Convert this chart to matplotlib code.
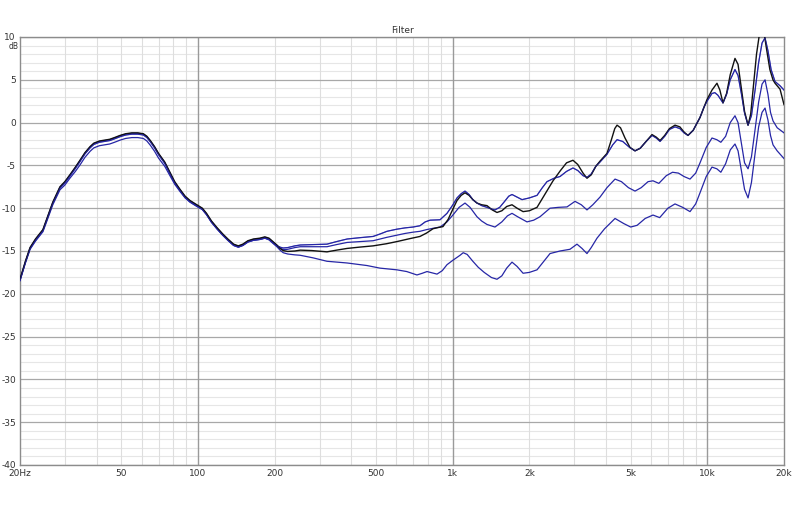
import matplotlib
matplotlib.use("Agg")
import matplotlib.pyplot as plt
from matplotlib.ticker import FixedLocator, NullLocator

# frequency points shared by all four traces below 210 Hz
freq_low = [20, 21, 21.9, 23, 24.6, 25.5, 26.9, 28.7, 30, 31.4, 33, 34.4, 36, 37.7, 39, 41, 43, 45,
            47, 49.4, 52, 55, 58, 61, 63, 65, 67.5, 70, 74, 77.6, 81, 85, 89, 93, 99, 104, 108, 113,
            119, 125, 131, 138, 144, 150, 157, 165, 175, 183, 190, 197, 204]

# trace A (black)
a_low = [-18.3, -16.2, -14.6, -13.6, -12.5, -11.2, -9.3, -7.5, -6.9, -6.1, -5.2, -4.4, -3.5, -2.8,
         -2.4, -2.15, -2.05, -1.95, -1.75, -1.5, -1.3, -1.2, -1.2, -1.3, -1.6, -2.1, -2.8, -3.6,
         -4.6, -5.8, -6.9, -7.8, -8.6, -9.1, -9.6, -10.0, -10.6, -11.5, -12.3, -13.0, -13.6, -14.2,
         -14.4, -14.2, -13.8, -13.6, -13.5, -13.35, -13.5, -13.9, -14.3]
a_freq = [210, 216, 225, 240, 252, 280, 321, 350, 385, 430, 487, 550, 604, 680, 744, 790, 837, 880,
          916, 960, 1002, 1040, 1080, 1118, 1160, 1200, 1246, 1300, 1364, 1430, 1493, 1560, 1630,
          1710, 1790, 1890, 2000, 2144, 2300, 2478, 2650, 2800, 2968, 3100, 3250, 3368, 3500, 3650,
          3790, 4036, 4200, 4330, 4420, 4560, 4750, 4970, 5200, 5450, 5750, 6064, 6300, 6521, 6800,
          7100, 7465, 7800, 8100, 8395, 8800, 9360, 9700, 9972, 10430, 10910, 11200, 11520, 11900,
          12300, 12840, 13200, 13600, 14000, 14450, 14800, 15200, 15600, 16100, 16600, 17100,
          17600, 18100, 18440, 19300, 20000]
a_db = [-14.7, -14.95, -15.05, -15.0, -14.9, -14.95, -15.1, -14.9, -14.7, -14.55, -14.4, -14.15,
        -13.9, -13.55, -13.3, -12.9, -12.4, -12.25, -12.15, -11.3, -10.1, -9.1, -8.5, -8.2, -8.5,
        -9.0, -9.4, -9.6, -9.7, -10.2, -10.5, -10.3, -9.8, -9.6, -10.0, -10.4, -10.3, -9.9, -8.4,
        -6.8, -5.6, -4.7, -4.4, -4.9, -5.9, -6.5, -6.1, -5.1, -4.5, -3.6, -2.0, -0.7, -0.3, -0.6,
        -1.8, -2.9, -3.3, -3.0, -2.2, -1.4, -1.7, -2.1, -1.5, -0.7, -0.3, -0.5, -1.1, -1.5, -0.9,
        0.6, 1.8, 2.7, 3.8, 4.6, 3.8, 2.3, 3.4, 5.6, 7.5, 6.8, 4.0, 1.3, -0.3, 1.0, 4.5, 8.0, 10.8,
        11.0, 8.5, 6.2, 5.0, 4.6, 3.9, 2.1]

# trace B (blue, follows black at the top end)
b_low = [-18.45, -16.35, -14.75, -13.75, -12.65, -11.35, -9.45, -7.65, -7.05, -6.25, -5.35, -4.55,
         -3.65, -2.95, -2.55, -2.3, -2.2, -2.1, -1.9, -1.65, -1.45, -1.35, -1.35, -1.45, -1.75,
         -2.25, -2.95, -3.75, -4.75, -5.95, -7.05, -7.95, -8.75, -9.25, -9.75, -10.15, -10.75,
         -11.65, -12.45, -13.15, -13.75, -14.35, -14.55, -14.35, -13.95, -13.75, -13.65, -13.5,
         -13.65, -14.05, -14.4]
b_freq = [210, 216, 225, 240, 252, 283, 321, 350, 385, 430, 487, 520, 552, 604, 650, 699, 744, 780,
          815, 892, 950, 1002, 1040, 1080, 1118, 1160, 1200, 1246, 1300, 1364, 1420, 1466, 1530,
          1600, 1660, 1710, 1790, 1872, 2000, 2144, 2250, 2346, 2500, 2639, 2800, 2968, 3100, 3250,
          3368, 3500, 3650, 3790, 4036, 4250, 4420, 4650, 4950, 5200, 5450, 5750, 6064, 6300, 6521,
          6800, 7100, 7465, 7800, 8100, 8395, 8800, 9360, 9700, 9972, 10430, 10700, 11000, 11520,
          11900, 12300, 12840, 13200, 13600, 14000, 14450, 14900, 15400, 15900, 16400, 16850,
          17300, 17800, 18440, 19300, 20000]
b_db = [-14.55, -14.65, -14.6, -14.4, -14.3, -14.25, -14.2, -13.9, -13.6, -13.45, -13.3, -13.0,
        -12.7, -12.45, -12.3, -12.2, -12.05, -11.6, -11.4, -11.35, -10.6, -9.6, -8.8, -8.3, -8.0,
        -8.4, -9.0, -9.4, -9.7, -9.9, -10.1, -10.2, -9.9, -9.2, -8.6, -8.4, -8.7, -9.0, -8.8,
        -8.5, -7.6, -6.9, -6.5, -6.3, -5.7, -5.3, -5.6, -6.2, -6.4, -6.0, -5.1, -4.6, -3.7, -2.6,
        -2.0, -2.2, -2.9, -3.3, -3.0, -2.2, -1.5, -1.8, -2.2, -1.6, -0.8, -0.5, -0.7, -1.2, -1.5,
        -0.9, 0.6, 1.8, 2.5, 3.4, 3.5, 3.2, 2.3, 3.3, 5.0, 6.2, 5.5, 3.4, 1.1, -0.3, 0.8, 3.8, 7.0,
        9.3, 9.9, 8.4, 6.2, 4.8, 4.3, 3.8]

# trace C (blue, middle at the top end)
c_low = [-18.35, -16.25, -14.65, -13.65, -12.55, -11.25, -9.35, -7.55, -6.95, -6.15, -5.25, -4.45,
         -3.55, -2.85, -2.45, -2.2, -2.1, -2.0, -1.8, -1.55, -1.35, -1.25, -1.25, -1.35, -1.65,
         -2.15, -2.85, -3.65, -4.65, -5.85, -6.95, -7.85, -8.65, -9.15, -9.65, -10.05, -10.65,
         -11.55, -12.35, -13.05, -13.65, -14.25, -14.45, -14.25, -13.85, -13.65, -13.55, -13.4,
         -13.55, -13.95, -14.35]
c_freq = [210, 216, 225, 240, 252, 283, 321, 350, 385, 430, 487, 552, 604, 650, 699, 744, 790, 837,
          892, 950, 1002, 1060, 1118, 1170, 1246, 1300, 1364, 1466, 1560, 1640, 1710, 1800, 1958,
          2080, 2202, 2411, 2600, 2812, 3022, 3200, 3368, 3550, 3790, 4036, 4341, 4600, 4900, 5200,
          5500, 5850, 6118, 6450, 6900, 7300, 7700, 8100, 8550, 9000, 9360, 9900, 10430, 10900,
          11300, 11800, 12300, 12840, 13200, 13600, 14000, 14450, 14900, 15400, 15900, 16400,
          16850, 17300, 17700, 18110, 18800, 20000]
c_db = [-14.65, -14.85, -14.8, -14.6, -14.5, -14.5, -14.5, -14.25, -14.0, -13.9, -13.8, -13.4,
        -13.15, -12.95, -12.8, -12.7, -12.5, -12.35, -12.2, -11.6, -10.8, -9.9, -9.4, -9.9, -11.0,
        -11.5, -11.9, -12.2, -11.6, -10.9, -10.6, -11.0, -11.6, -11.4, -11.0, -10.0, -9.9, -9.85,
        -9.2, -9.6, -10.2, -9.6, -8.7, -7.6, -6.6, -6.9, -7.6, -8.0, -7.6, -6.9, -6.8, -7.1, -6.2,
        -5.8, -5.9, -6.3, -6.6, -5.9, -4.7, -2.9, -1.8, -2.0, -2.3, -1.6, 0.0, 0.8, 0.0, -2.4,
        -4.7, -5.4, -4.0, -0.8, 2.4, 4.5, 5.0, 3.3, 1.2, 0.2, -0.6, -1.2]

# trace D (blue, lowest)
d_low = [-18.45, -16.4, -14.8, -13.85, -12.75, -11.5, -9.6, -7.85, -7.3, -6.5, -5.7, -4.95, -4.05,
         -3.35, -2.95, -2.7, -2.6, -2.5, -2.3, -2.05, -1.85, -1.75, -1.75, -1.85, -2.15, -2.65,
         -3.35, -4.15, -5.1, -6.2, -7.2, -8.05, -8.8, -9.3, -9.8, -10.15, -10.75, -11.65, -12.45,
         -13.15, -13.75, -14.35, -14.55, -14.35, -13.95, -13.75, -13.65, -13.5, -13.7, -14.1, -14.5]
d_freq = [210, 216, 225, 240, 252, 283, 321, 385, 461, 518, 604, 660, 724, 760, 793, 830, 868, 910,
          950, 1000, 1069, 1100, 1140, 1200, 1260, 1330, 1420, 1493, 1560, 1630, 1710, 1790, 1890,
          2000, 2144, 2280, 2411, 2639, 2888, 3077, 3220, 3368, 3500, 3688, 3950, 4341, 4700, 5000,
          5300, 5700, 6118, 6500, 7000, 7465, 8000, 8550, 9000, 9360, 9900, 10430, 10900, 11300,
          11800, 12300, 12840, 13200, 13600, 14000, 14450, 14900, 15400, 15900, 16400, 16850,
          17300, 17700, 18110, 18800, 20000]
d_db = [-14.9, -15.2, -15.35, -15.45, -15.5, -15.8, -16.2, -16.4, -16.7, -17.0, -17.2, -17.4,
        -17.8, -17.6, -17.4, -17.55, -17.7, -17.3, -16.6, -16.1, -15.5, -15.2, -15.4, -16.2, -16.9,
        -17.5, -18.1, -18.3, -17.9, -17.0, -16.3, -16.8, -17.6, -17.5, -17.2, -16.2, -15.3, -15.0,
        -14.8, -14.2, -14.7, -15.3, -14.6, -13.5, -12.4, -11.2, -11.8, -12.2, -12.0, -11.2, -10.8,
        -11.1, -10.0, -9.5, -9.9, -10.4, -9.5, -8.2, -6.3, -5.2, -5.4, -5.8, -4.8, -3.2, -2.5,
        -3.3, -5.6, -7.8, -8.8, -7.0, -3.6, -0.5, 1.2, 1.7, 0.3, -1.5, -2.6, -3.3, -4.2]

x_ticks = [20, 50, 100, 200, 500, 1000, 2000, 5000, 10000, 20000]
x_labels = ["20Hz", "50", "100", "200", "500", "1k", "2k", "5k", "10k", "20k"]
y_ticks = list(range(-40, 11, 5))

BLUE = "#2626a6"

fig = plt.figure(figsize=(8.0, 5.13), dpi=100)
ax = fig.add_axes([20 / 800, 1 - 465 / 513, 764 / 800, 428 / 513])
ax.set_xscale("log")
ax.set_xlim(20, 20000)
ax.set_ylim(-40, 10)

# grid, drawn by hand so the decade lines can be darker
for v in range(-40, 11):
    if v % 5 == 0:
        ax.axhline(v, color="#a8a8a8", lw=0.9, zorder=1)
    else:
        ax.axhline(v, color="#e6e6e6", lw=0.8, zorder=0)
for e in [10, 100, 1000, 10000]:
    for k in range(1, 10):
        f = k * e
        if f <= 20 or f >= 20000:
            continue
        if k == 1:
            ax.axvline(f, color="#9a9a9a", lw=1.0, zorder=1)
        else:
            ax.axvline(f, color="#dedede", lw=0.8, zorder=0)

ax.plot(freq_low + d_freq, d_low + d_db, color=BLUE, lw=0.9, zorder=3)
ax.plot(freq_low + c_freq, c_low + c_db, color=BLUE, lw=0.9, zorder=3)
ax.plot(freq_low + b_freq, b_low + b_db, color=BLUE, lw=0.9, zorder=3)
ax.plot(freq_low + a_freq, a_low + a_db, color="#111111", lw=1.0, zorder=4)
ax.plot(freq_low + b_freq, b_low + b_db, color=BLUE, lw=0.7, zorder=4, alpha=0.6)

ax.xaxis.set_major_locator(FixedLocator(x_ticks))
ax.xaxis.set_minor_locator(NullLocator())
ax.set_xticklabels(x_labels)
ax.set_yticks(y_ticks)
ax.set_yticklabels([str(v) for v in y_ticks])
ax.tick_params(length=0, labelsize=6.5, colors="#333333", pad=3)
# the top label sits a little above its gridline, as in REW
ax.get_yticklabels()[-1].set_y(10.3)

for s in ax.spines.values():
    s.set_color("#8c8c8c")
    s.set_linewidth(1.0)

ax.set_title("Filter", fontsize=6.5, color="#333333", pad=3)
fig.text(14 / 800, 1 - 46.5 / 513, "dB", fontsize=5.5, color="#333333", ha="center", va="center")

fig.savefig("out.png", dpi=100, facecolor="white")
